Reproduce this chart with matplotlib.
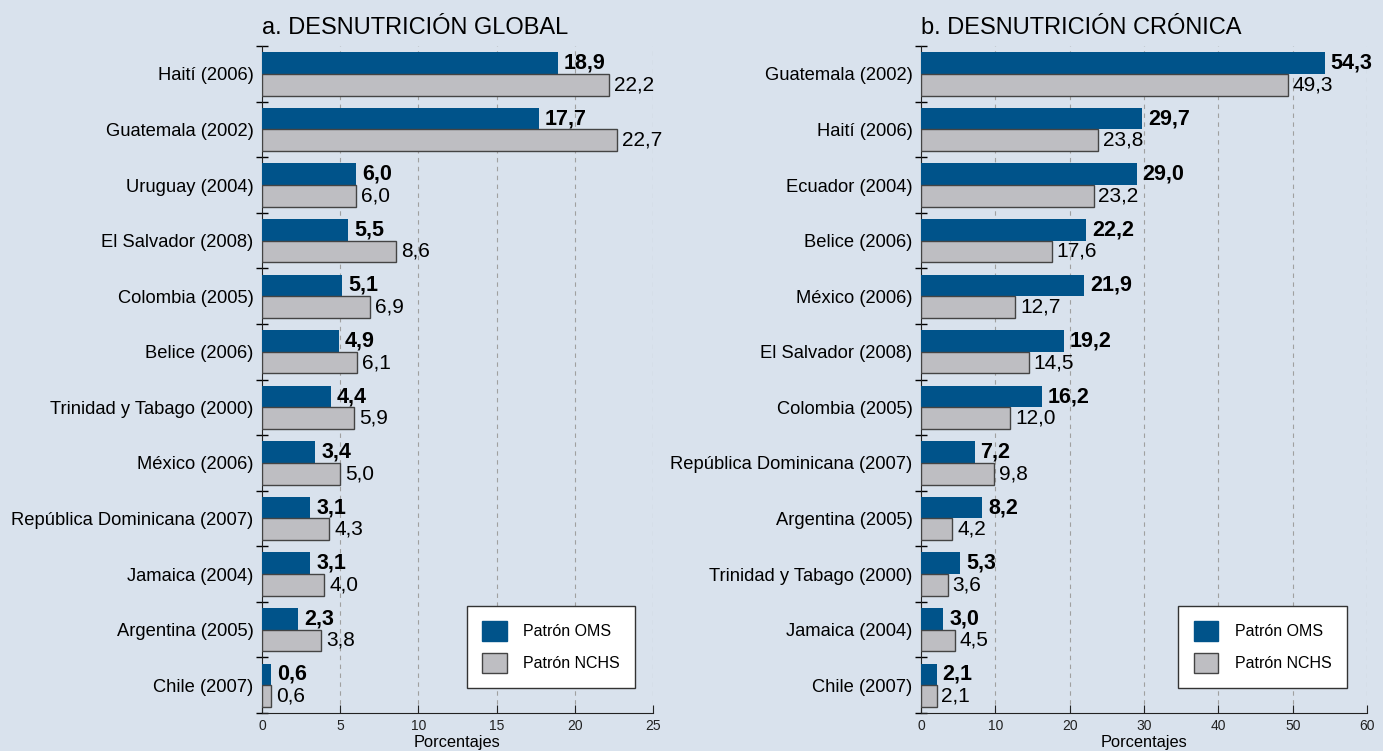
import numpy as np
import matplotlib.pyplot as plt
from matplotlib.patches import Patch

plt.rcParams["font.family"] = ["Liberation Sans", "DejaVu Sans"]

BG = "#d9e2ed"
BLUE = "#00538a"
GREY = "#bebec2"

paises_a = ["Haití (2006)", "Guatemala (2002)", "Uruguay (2004)", "El Salvador (2008)",
            "Colombia (2005)", "Belice (2006)", "Trinidad y Tabago (2000)", "México (2006)",
            "República Dominicana (2007)", "Jamaica (2004)", "Argentina (2005)", "Chile (2007)"]
oms_a = [18.9, 17.7, 6.0, 5.5, 5.1, 4.9, 4.4, 3.4, 3.1, 3.1, 2.3, 0.6]
nchs_a = [22.2, 22.7, 6.0, 8.6, 6.9, 6.1, 5.9, 5.0, 4.3, 4.0, 3.8, 0.6]

paises_b = ["Guatemala (2002)", "Haití (2006)", "Ecuador (2004)", "Belice (2006)",
            "México (2006)", "El Salvador (2008)", "Colombia (2005)",
            "República Dominicana (2007)", "Argentina (2005)", "Trinidad y Tabago (2000)",
            "Jamaica (2004)", "Chile (2007)"]
oms_b = [54.3, 29.7, 29.0, 22.2, 21.9, 19.2, 16.2, 7.2, 8.2, 5.3, 3.0, 2.1]
nchs_b = [49.3, 23.8, 23.2, 17.6, 12.7, 14.5, 12.0, 9.8, 4.2, 3.6, 4.5, 2.1]


def fmt(v):
    return f"{v:.1f}".replace(".", ",")


def panel(ax, title, paises, oms, nchs, xmax, step, off):
    n = len(paises)
    y = np.arange(n)
    h = 0.39
    ax.set_facecolor(BG)
    ax.barh(y - h / 2, oms, height=h, color=BLUE, zorder=3)
    ax.barh(y + h / 2, nchs, height=h, color=GREY, edgecolor="#444444", linewidth=1, zorder=3)
    for yi, a, b in zip(y, oms, nchs):
        ax.text(a + off, yi - h / 2, fmt(a), va="center", ha="left", fontsize=15.5,
                fontweight="bold", color="black")
        ax.text(b + off * 0.8, yi + h / 2, fmt(b), va="center", ha="left", fontsize=15,
                color="black")
    ax.set_ylim(n - 0.5, -0.5)
    ax.set_xlim(0, xmax)
    ax.set_yticks(y)
    ax.set_yticklabels(paises, fontsize=13.2)
    ax.set_yticks(np.arange(-0.5, n, 1), minor=True)
    ax.tick_params(axis="y", which="major", length=0, pad=6)
    ax.tick_params(axis="y", which="minor", direction="inout", length=8, width=1)
    ax.set_xticks(np.arange(0, xmax + 1, step))
    ax.tick_params(axis="x", direction="in", length=6, labelsize=10, pad=4, colors="#222222")
    ax.grid(axis="x", linestyle=(0, (4, 4)), color="#a0a0a0", linewidth=0.8, zorder=0)
    for s in ["top", "right"]:
        ax.spines[s].set_visible(False)
    ax.spines["left"].set_color("#222222")
    ax.spines["bottom"].set_color("#222222")
    ax.set_xlabel("Porcentajes", fontsize=11.8, labelpad=2)
    ax.set_title(title, loc="left", fontsize=17, pad=9)
    handles = [Patch(facecolor=BLUE, edgecolor=BLUE, label="Patrón OMS"),
               Patch(facecolor=GREY, edgecolor="#444444", label="Patrón NCHS")]
    leg = ax.legend(handles=handles, loc="lower right", bbox_to_anchor=(0.955, 0.037),
                    fontsize=11.5, frameon=True, fancybox=False, handlelength=1.55,
                    handleheight=1.55, labelspacing=0.75, borderpad=0.95, handletextpad=1.05,
                    borderaxespad=0)
    leg.get_frame().set_edgecolor("#333333")
    leg.get_frame().set_facecolor("white")
    leg.get_frame().set_alpha(1)
    leg.set_zorder(5)


fig = plt.figure(figsize=(13.83, 7.51), dpi=100)
fig.patch.set_facecolor(BG)
ax1 = fig.add_axes([0.1894, 0.0506, 0.2827, 0.888])
ax2 = fig.add_axes([0.666, 0.0506, 0.3225, 0.888])
panel(ax1, "a. DESNUTRICIÓN GLOBAL", paises_a, oms_a, nchs_a, 25, 5, 0.4)
panel(ax2, "b. DESNUTRICIÓN CRÓNICA", paises_b, oms_b, nchs_b, 60, 10, 0.8)
fig.savefig("out.png", dpi=100, facecolor=BG)
